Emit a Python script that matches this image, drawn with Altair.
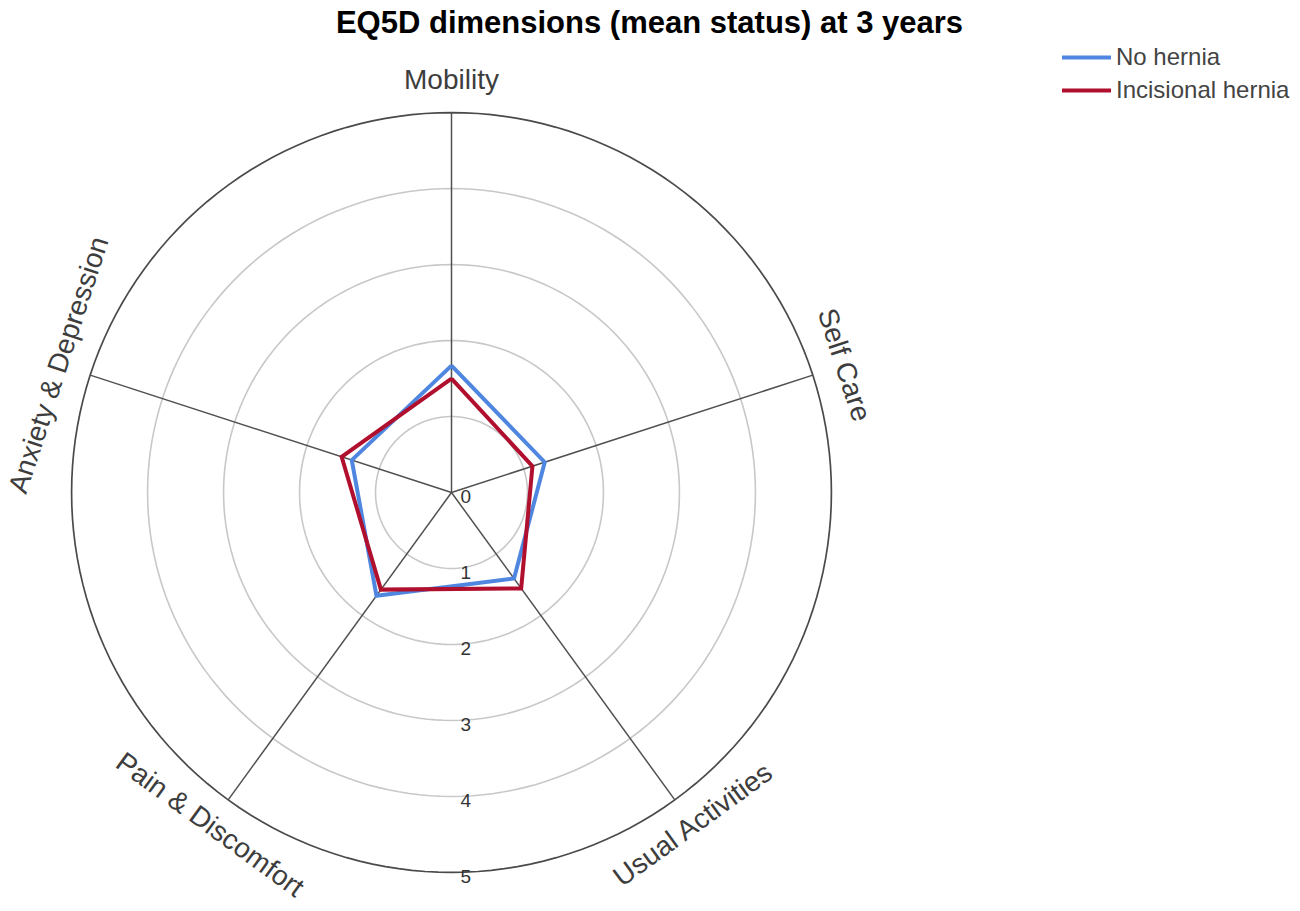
import math
import altair as alt
import pandas as pd

# ---- data ----
categories = ["Mobility", "Self Care", "Usual Activities", "Pain & Discomfort", "Anxiety & Depression"]
no_hernia = [1.67, 1.29, 1.40, 1.68, 1.38]
incisional_hernia = [1.50, 1.12, 1.56, 1.58, 1.52]
series_names = ["No hernia", "Incisional hernia"]
series_colors = ["#4f86e0", "#b00f2e"]
ring_values = [1, 2, 3, 4, 5]
tick_values = [0, 1, 2, 3, 4, 5]
tick_labels = ["0", "1", "2", "3", "4", "5"]
max_value = 5
label_radius = 5.42

n = len(categories)
angles = [360.0 * i / n for i in range(n)]

# series polygons (closed)
series_rows = []
for name, vals in zip(series_names, [no_hernia, incisional_hernia]):
    for k in range(n + 1):
        i = k % n
        a = math.radians(angles[i])
        series_rows.append({"series": name, "order": k,
                            "x": vals[i] * math.sin(a), "y": vals[i] * math.cos(a)})
series_df = pd.DataFrame(series_rows)

# rings
ring_rows = []
for r in ring_values:
    for k in range(0, 361, 2):
        a = math.radians(k)
        ring_rows.append({"ring": r, "order": k, "x": r * math.sin(a), "y": r * math.cos(a),
                          "outer": r == max_value})
ring_df = pd.DataFrame(ring_rows)

# spokes
spoke_df = pd.DataFrame({
    "cat": categories,
    "x0": [0.0] * n, "y0": [0.0] * n,
    "x1": [max_value * math.sin(math.radians(a)) for a in angles],
    "y1": [max_value * math.cos(math.radians(a)) for a in angles],
})

# category labels, tangential
def rot(a):
    if 90 < a < 270:
        return (a - 180) % 360
    return a % 360

label_df = pd.DataFrame({
    "cat": categories,
    "x": [label_radius * math.sin(math.radians(a)) for a in angles],
    "y": [label_radius * math.cos(math.radians(a)) for a in angles],
    "rot": [rot(a) for a in angles],
})

tick_df = pd.DataFrame({"x": [0.0] * len(tick_values), "y": [-v for v in tick_values], "t": tick_labels})

xs = alt.Scale(domain=[-5.6, 5.6], nice=False, zero=False)
ys = alt.Scale(domain=[-5.35, 5.6], nice=False, zero=False)

X = lambda f="x": alt.X(f"{f}:Q", scale=xs, axis=None)
Y = lambda f="y": alt.Y(f"{f}:Q", scale=ys, axis=None)

inner_rings = alt.Chart(ring_df).transform_filter("!datum.outer").mark_line(
    color="#c8c8c8", strokeWidth=1.6).encode(
    x=X(), y=Y(), detail="ring:N", order="order:Q")
outer_ring = alt.Chart(ring_df).transform_filter("datum.outer").mark_line(
    color="#4a4a4a", strokeWidth=1.7).encode(
    x=X(), y=Y(), detail="ring:N", order="order:Q")

spokes = alt.Chart(spoke_df).mark_rule(color="#505050", strokeWidth=1.5).encode(
    x=X("x0"), y=Y("y0"), x2="x1:Q", y2="y1:Q")

color = alt.Color("series:N",
                  scale=alt.Scale(domain=series_names, range=series_colors),
                  legend=alt.Legend(title=None, orient="none", legendX=1046, legendY=-24,
                                    symbolType="M-2,0H2", symbolSize=600, symbolStrokeWidth=4,
                                    labelFontSize=24, labelFont="Liberation Sans",
                                    labelColor="#444444", labelOffset=15, rowPadding=6,
                                    padding=0, labelLimit=400))

blue = alt.Chart(series_df).transform_filter(alt.datum.series == series_names[0]).mark_line(
    strokeWidth=4, strokeJoin="miter").encode(x=X(), y=Y(), color=color, order="order:Q")
red = alt.Chart(series_df).transform_filter(alt.datum.series == series_names[1]).mark_line(
    strokeWidth=4, strokeJoin="miter").encode(x=X(), y=Y(), color=color, order="order:Q")

labels = alt.Chart(label_df).mark_text(
    font="Liberation Sans", fontSize=28, color="#3d3d3d", align="center", baseline="middle").encode(
    x=X(), y=Y(), text="cat:N", angle=alt.Angle("rot:Q", scale=None))

ticks = alt.Chart(tick_df).mark_text(
    font="Liberation Sans", fontSize=19, color="#333333", align="left", baseline="middle",
    dx=9, dy=5).encode(x=X(), y=Y(), text="t:N")

chart = alt.layer(inner_rings, outer_ring, spokes, blue, red, labels, ticks).properties(
    width=851, height=832,
    padding={"left": 18, "top": 59, "right": 415, "bottom": 4},
    autosize=alt.AutoSizeParams(type="none"),
    title=alt.TitleParams("EQ5D dimensions (mean status) at 3 years", fontSize=31,
                          font="Liberation Sans", fontWeight="bold", color="#000000",
                          anchor="middle", frame="group", dx=198, offset=0, dy=21,
                          baseline="alphabetic"),
).configure(background="white").configure_view(stroke="transparent", strokeWidth=0)

chart.save("out.html", embed_options={"renderer": "svg", "actions": False})
